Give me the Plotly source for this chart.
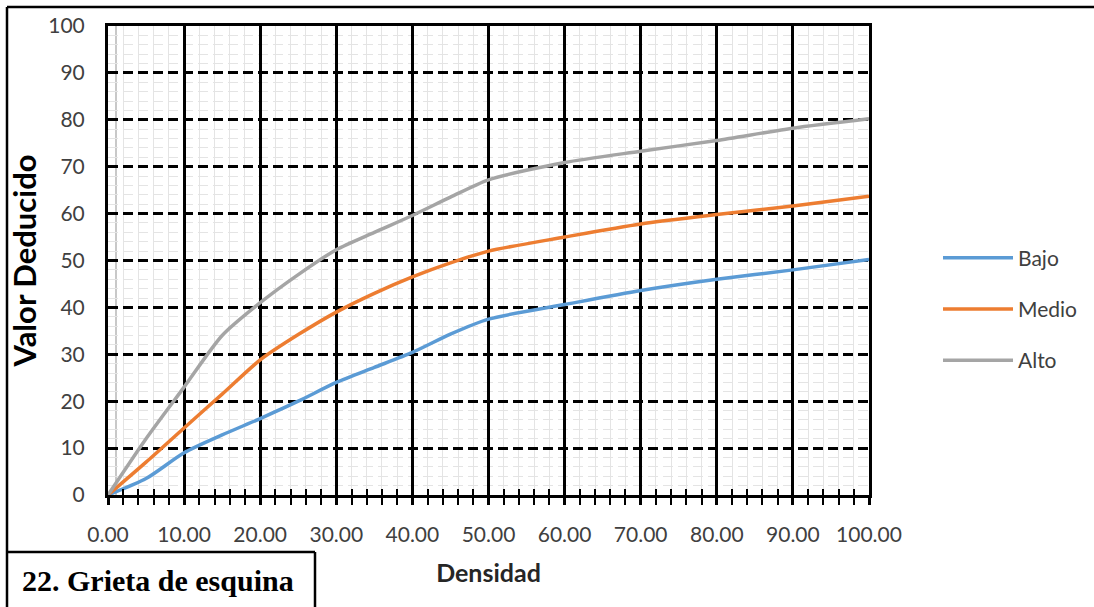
import plotly.graph_objects as go

# ---- data ----
densidad = [0, 5, 10, 15, 20, 25, 30, 35, 40, 45, 50, 60, 70, 80, 90, 100]
bajo  = [0, 3.5, 9.0, 12.8, 16.3, 20.0, 24.0, 27.2, 30.4, 34.3, 37.5, 40.6, 43.6, 46.0, 48.0, 50.2]
medio = [0, 7.0, 14.3, 21.5, 28.8, 34.2, 39.0, 43.0, 46.5, 49.5, 52.0, 55.0, 57.8, 59.8, 61.6, 63.7]
alto  = [0, 12.0, 23.0, 34.0, 41.0, 47.0, 52.3, 56.0, 59.6, 63.5, 67.2, 70.9, 73.3, 75.6, 78.2, 80.2]
series_names = ["Bajo", "Medio", "Alto"]
series_colors = ["#5B9BD5", "#ED7D31", "#A5A5A5"]
y_ticks = [0, 10, 20, 30, 40, 50, 60, 70, 80, 90, 100]
x_ticks = [0, 10, 20, 30, 40, 50, 60, 70, 80, 90, 100]

W, H = 1094, 607
L, R, T, B = 108, 225, 26, 112
PW, PH = W - L - R, H - T - B

def px(x):
    return (x - L) / PW

def py(y):
    return (H - B - y) / PH

fig = go.Figure()
for name, vals, col in zip(series_names, [bajo, medio, alto], series_colors):
    fig.add_trace(go.Scatter(
        x=densidad, y=vals, name=name, mode="lines",
        line=dict(color=col, width=3.5, shape="spline", smoothing=0.7),
        legendgroup=name,
    ))
# empty trace on the overlay axis (carries the inside ticks)
fig.add_trace(go.Scatter(x=[], y=[], xaxis="x2", showlegend=False, hoverinfo="skip"))

tick_font = dict(family="Lato, sans-serif", size=21, color="#404040")

fig.update_layout(
    width=W, height=H,
    margin=dict(l=L, r=R, t=T, b=B, autoexpand=False),
    paper_bgcolor="white", plot_bgcolor="white",
    xaxis=dict(
        range=[0, 100], tickvals=x_ticks, tickformat=".2f",
        showgrid=True, gridcolor="black", gridwidth=2.5,
        showline=True, linecolor="black", linewidth=3, mirror=True,
        ticks="outside", ticklen=7, tickwidth=2.5, tickcolor="black",
        minor=dict(dtick=2, ticks="outside", ticklen=7, tickwidth=2, tickcolor="black",
                   showgrid=True, gridcolor="#e4e4e4", gridwidth=1),
        zeroline=False, tickfont=tick_font, ticklabelstandoff=12,
        title=dict(text="<b>Densidad</b>", font=dict(family="Lato, sans-serif", size=25, color="#262626"),
                   standoff=20),
        automargin=False,
    ),
    xaxis2=dict(
        overlaying="x", matches="x", anchor="y", side="bottom",
        showgrid=False, showline=False, zeroline=False, showticklabels=False,
        tickvals=x_ticks, ticks="inside", ticklen=6, tickwidth=2.5, tickcolor="black",
        minor=dict(dtick=2, ticks="inside", ticklen=6, tickwidth=2, tickcolor="black", showgrid=False),
    ),
    yaxis=dict(
        range=[0, 100], tickvals=y_ticks,
        showgrid=True, gridcolor="black", gridwidth=2.5, griddash="10px,5px",
        showline=True, linecolor="black", linewidth=3, mirror=True,
        ticks="", zeroline=False, tickfont=tick_font, ticklabelstandoff=16,
        minor=dict(dtick=2, showgrid=True, gridcolor="#e4e4e4", gridwidth=1),
        title=dict(text="<b>Valor Deducido</b>", font=dict(family="Lato, sans-serif", size=31, color="black"),
                   standoff=3),
        automargin=False,
    ),
    legend=dict(
        x=px(938), y=py(309), xanchor="left", yanchor="middle",
        font=dict(family="Lato, sans-serif", size=21, color="#404040"),
        itemwidth=70, tracegroupgap=21, traceorder="grouped",
        bgcolor="rgba(0,0,0,0)",
    ),
    showlegend=True,
)

# thin grey line just right of the y axis (as in reference)
fig.add_shape(type="line", xref="paper", yref="paper", x0=px(116), x1=px(116), y0=0, y1=1,
              line=dict(color="#c8c8c8", width=2), layer="below")

# outer frame and label box
frame = dict(color="black", width=2.5)
fig.add_shape(type="line", xref="paper", yref="paper", x0=px(7), x1=px(W + 5), y0=py(7), y1=py(7), line=frame)
fig.add_shape(type="line", xref="paper", yref="paper", x0=px(7), x1=px(7), y0=py(7), y1=py(H + 5), line=frame)
fig.add_shape(type="line", xref="paper", yref="paper", x0=px(7), x1=px(315), y0=py(552), y1=py(552), line=frame)
fig.add_shape(type="line", xref="paper", yref="paper", x0=px(315), x1=px(315), y0=py(552), y1=py(H + 5), line=frame)

fig.add_annotation(
    xref="paper", yref="paper", x=px(20), y=py(580), xanchor="left", yanchor="middle",
    text="<b>22. Grieta de esquina</b>", showarrow=False,
    font=dict(family="Liberation Serif, Times New Roman, serif", size=30, color="black"),
)

fig.write_html("out.html", config={"displayModeBar": False},
               post_script="document.body.style.margin='0';document.body.style.overflow='hidden';")
